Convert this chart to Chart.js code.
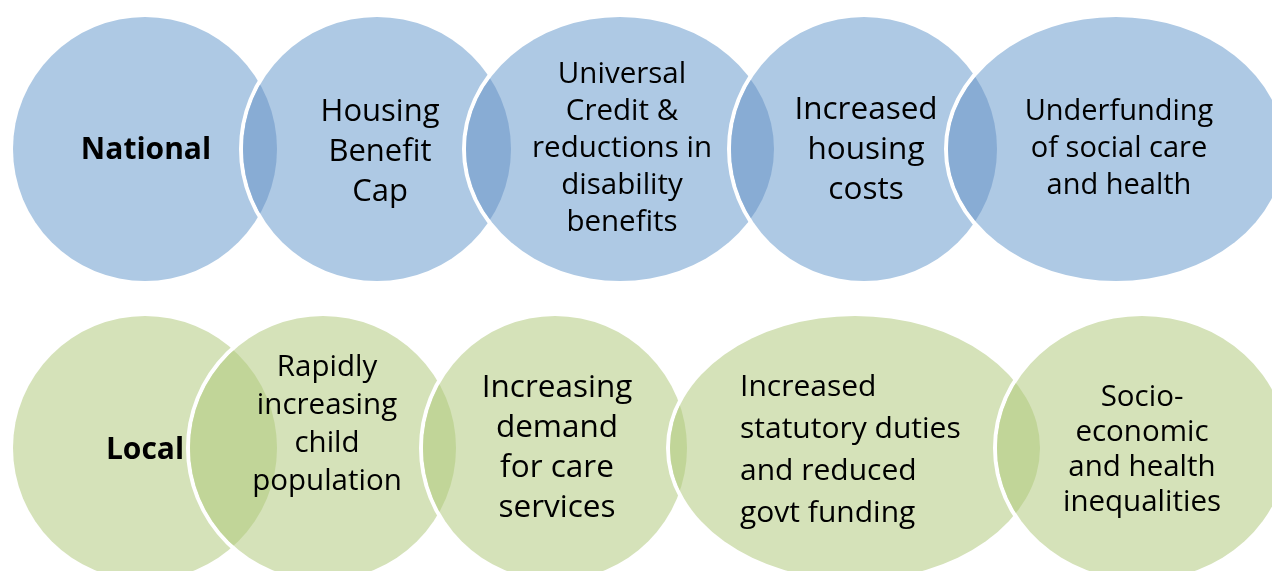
<!DOCTYPE html>
<html>
<head>
<meta charset="utf-8">
<script src="https://cdn.jsdelivr.net/npm/chart.js@4"></script>
<style>
	body { margin: 0; background: #fff; }
	#wrap { width: 1272px; height: 571px; }
</style>
</head>
<body>
<div id="wrap"><canvas id="venn"></canvas></div>
<script>
// circle captions, centres and radii (in diagram units)
const nationalLabels = ['National', 'Housing\nBenefit\nCap', 'Universal\nCredit &\nreductions in\ndisability\nbenefits', 'Increased\nhousing\ncosts', 'Underfunding\nof social care\nand health'];
const nationalX = [145, 377, 620, 864, 1116];
const nationalRx = [132, 134, 154, 133, 168];

const localLabels = ['Local', 'Rapidly\nincreasing\nchild\npopulation', 'Increasing\ndemand\nfor care\nservices', 'Increased\nstatutory duties\nand reduced\ngovt funding', 'Socio-\neconomic\nand health\ninequalities'];
const localX = [145, 323, 555, 855, 1142];
const localRx = [132, 133, 132, 185, 145];

const rowY = [149, 448];
const rowRy = [132, 132];

// text styling per circle
const textStyle = [
	[
		{ size: 30, lh: 40, bold: true, dx: 1, dy: 1 },
		{ size: 31, lh: 40, dx: 3, dy: 3 },
		{ size: 29.5, lh: 37, dx: 2, dy: 0 },
		{ size: 31.5, lh: 40, dx: 2, dy: 1 },
		{ size: 29, lh: 37, dx: 3, dy: 0 }
	],
	[
		{ size: 30, lh: 40, bold: true, dx: 0, dy: 2 },
		{ size: 29.5, lh: 38, dx: 4, dy: -23 },
		{ size: 31.5, lh: 40, dx: 2, dy: 0 },
		{ size: 30, lh: 42, dx: -115, dy: 2, align: 'left' },
		{ size: 29.5, lh: 35, dx: 0, dy: 2 }
	]
];

const fills = [
	{ base: '#aec9e4', lens: '#88acd4' },
	{ base: '#d5e2b9', lens: '#c1d598' }
];

function ellipsePath(ctx, x, y, rx, ry) {
	ctx.beginPath();
	ctx.ellipse(x, y, rx, ry, 0, 0, Math.PI * 2);
	ctx.closePath();
}

const vennPlugin = {
	id: 'venn',
	beforeDatasetsDraw(chart) {
		const ctx = chart.ctx,
			xs = chart.scales.x,
			ys = chart.scales.y;
		ctx.save();
		ctx.fillStyle = '#fff';
		ctx.fillRect(0, 0, chart.width, chart.height);
		chart.data.datasets.forEach(function (ds, row) {
			const shapes = ds.data.map(function (p) {
				const cx = xs.getPixelForValue(p.x),
					cy = ys.getPixelForValue(p.y);
				return {
					x: cx,
					y: cy,
					rx: Math.abs(xs.getPixelForValue(p.x + p.rx) - cx),
					ry: Math.abs(ys.getPixelForValue(p.y + p.ry) - cy)
				};
			});
			shapes.forEach(function (s, i) {
				ellipsePath(ctx, s.x, s.y, s.rx, s.ry);
				if (i > 0) {
					// white rim only shows where it cuts into the previous circle
					ctx.lineWidth = 8;
					ctx.strokeStyle = '#fff';
					ctx.stroke();
				}
				ctx.fillStyle = fills[row].base;
				ctx.fill();
				if (i > 0) {
					const prev = shapes[i - 1];
					ctx.save();
					ellipsePath(ctx, prev.x, prev.y, prev.rx, prev.ry);
					ctx.clip();
					ellipsePath(ctx, s.x, s.y, s.rx, s.ry);
					ctx.fillStyle = fills[row].lens;
					ctx.fill();
					ctx.restore();
				}
			});
		});
		ctx.restore();
	},
	afterDatasetsDraw(chart) {
		const ctx = chart.ctx,
			xs = chart.scales.x,
			ys = chart.scales.y;
		ctx.save();
		ctx.fillStyle = '#000';
		ctx.textBaseline = 'middle';
		chart.data.datasets.forEach(function (ds, row) {
			ds.data.forEach(function (p, i) {
				const st = textStyle[row][i],
					lines = p.label.split('\n'),
					cx = xs.getPixelForValue(p.x) + st.dx,
					cy = ys.getPixelForValue(p.y) + st.dy;
				ctx.font = (st.bold ? 'bold ' : '') + st.size + 'px "Open Sans"';
				ctx.textAlign = st.align || 'center';
				lines.forEach(function (line, j) {
					ctx.fillText(line, cx, cy - (lines.length - 1) * st.lh / 2 + j * st.lh);
				});
			});
		});
		ctx.restore();
	}
};

function rowData(labels, xs, rxs, row) {
	return labels.map(function (l, i) {
		return { x: xs[i], y: rowY[row], rx: rxs[i], ry: rowRy[row], label: l };
	});
}

const vennChart = new Chart(document.getElementById('venn').getContext('2d'), {
	type: 'scatter',
	data: {
		datasets: [
			{ label: 'National', data: rowData(nationalLabels, nationalX, nationalRx, 0), pointRadius: 0 },
			{ label: 'Local', data: rowData(localLabels, localX, localRx, 1), pointRadius: 0 }
		]
	},
	options: {
		responsive: true,
		maintainAspectRatio: false,
		animation: false,
		layout: { padding: 0 },
		plugins: {
			legend: { display: false },
			tooltip: { enabled: false }
		},
		scales: {
			x: { type: 'linear', min: 0, max: 1272, display: false },
			y: { type: 'linear', min: 0, max: 571, reverse: true, display: false }
		}
	},
	plugins: [vennPlugin]
});
</script>
</body>
</html>
